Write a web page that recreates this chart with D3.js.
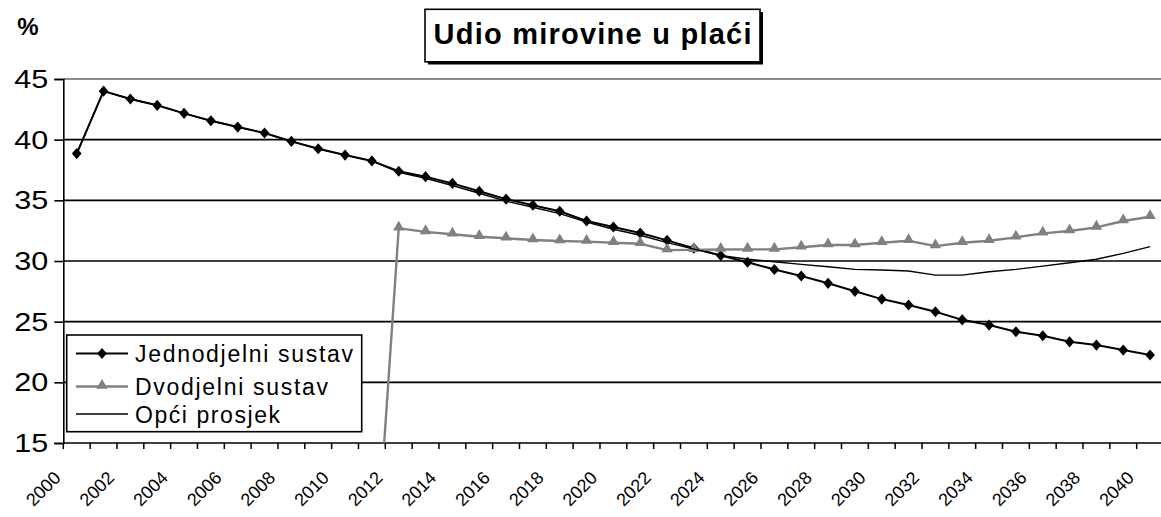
<!DOCTYPE html>
<html><head><meta charset="utf-8">
<script src="https://cdn.jsdelivr.net/npm/d3@7"></script>
<style>
html,body{margin:0;padding:0;background:#fff;}
svg{display:block;font-family:"Liberation Sans",Arial,sans-serif;}
</style></head>
<body>
<svg id="chart" width="1161" height="517"></svg>
<script>
const years = [2000,2001,2002,2003,2004,2005,2006,2007,2008,2009,2010,2011,2012,2013,2014,2015,2016,2017,2018,2019,2020,2021,2022,2023,2024,2025,2026,2027,2028,2029,2030,2031,2032,2033,2034,2035,2036,2037,2038,2039,2040];
const jednodjelni = [38.85,44.0,43.35,42.83,42.17,41.56,41.04,40.55,39.86,39.25,38.73,38.25,37.4,36.95,36.4,35.75,35.1,34.6,34.1,33.3,32.8,32.3,31.7,31.05,30.45,29.9,29.3,28.76,28.16,27.5,26.86,26.37,25.82,25.15,24.72,24.17,23.84,23.34,23.07,22.66,22.25];
const dvodjelni = [0,0,0,0,0,0,0,0,0,0,0,0,32.7,32.4,32.2,32.0,31.87,31.73,31.65,31.6,31.5,31.42,30.9,30.92,30.95,30.96,30.96,31.13,31.32,31.32,31.5,31.67,31.23,31.5,31.67,31.95,32.28,32.47,32.77,33.3,33.65];
const opciProsjek = [38.85,44.0,43.35,42.83,42.17,41.56,41.04,40.55,39.86,39.25,38.73,38.25,37.3,36.82,36.22,35.58,34.93,34.43,33.9,33.2,32.62,32.12,31.52,30.98,30.45,30.14,29.94,29.72,29.53,29.31,29.26,29.17,28.84,28.84,29.11,29.31,29.58,29.86,30.14,30.63,31.18];
const yTicks = [15,20,25,30,35,40,45];
const xTickLabels = ["2000","2002","2004","2006","2008","2010","2012","2014","2016","2018","2020","2022","2024","2026","2028","2030","2032","2034","2036","2038","2040"];
const seriesNames = ["Jednodjelni sustav","Dvodjelni sustav","Opći prosjek"];
const title = "Udio mirovine u plaći";

const svg = d3.select("#chart");
const L = 63.3, R = 1163.5, T = 79, B = 443;
const x = d3.scaleBand().domain(years).range([L, R]).padding(0);
const cx = d => x(d) + x.bandwidth()/2;
const y = d3.scaleLinear().domain([15,45]).range([B, T]);

svg.append("defs").append("clipPath").attr("id","plotclip")
  .append("rect").attr("x",L).attr("y",T-6).attr("width",R-L).attr("height",B-T+6);

// gridlines
svg.append("g").selectAll("line").data(yTicks.filter(v=>v>15)).join("line")
  .attr("x1",L).attr("x2",R).attr("y1",d=>y(d)).attr("y2",d=>y(d))
  .attr("stroke",d=>d===45?"#8c8c8c":"#000").attr("stroke-width",d=>d===45?2:1.6);

// y axis
const yAxis = svg.append("g").attr("transform",`translate(${L},0)`)
  .call(d3.axisLeft(y).tickValues(yTicks).tickSize(9).tickFormat(d3.format("d")));
yAxis.select(".domain").attr("stroke","#000").attr("stroke-width",1.6);
yAxis.selectAll(".tick line").attr("stroke","#000").attr("stroke-width",1.6);
yAxis.selectAll(".tick text").attr("font-size",26).attr("fill","#000")
  .attr("font-family","'Liberation Sans',Arial,sans-serif")
  .attr("x",-15).attr("dy","0.33em").attr("textLength",34).attr("lengthAdjust","spacingAndGlyphs");

// x axis
const xg = svg.append("g");
xg.append("line").attr("x1",L).attr("x2",R).attr("y1",y(15)).attr("y2",y(15))
  .attr("stroke","#000").attr("stroke-width",1.6);
xg.selectAll("line.tk").data(years).join("line").attr("class","tk")
  .attr("x1",d=>x(d)).attr("x2",d=>x(d)).attr("y1",y(15)).attr("y2",y(15)+6)
  .attr("stroke","#000").attr("stroke-width",1.5);
xg.selectAll("text").data(xTickLabels).join("text")
  .attr("transform",d=>`translate(${cx(+d)-15},${y(15)+36}) rotate(-45)`)
  .attr("text-anchor","end").attr("font-size",18).attr("fill","#000")
  .text(d=>d);

// % label
svg.append("text").attr("x",28).attr("y",35).attr("text-anchor","middle")
  .attr("font-size",24).attr("font-weight","bold").text("%");

// series
const plot = svg.append("g").attr("clip-path","url(#plotclip)");
const line = d3.line().x((d,i)=>cx(years[i])).y(d=>y(d));
const diamond = d3.symbol().type(d3.symbolDiamond2).size(60);
const triangle = d3.symbol().type(d3.symbolTriangle).size(56);

plot.append("path").datum(jednodjelni).attr("d",line)
  .attr("fill","none").attr("stroke","#000").attr("stroke-width",2);
plot.selectAll("path.dm").data(jednodjelni).join("path").attr("class","dm")
  .attr("transform",(d,i)=>`translate(${cx(years[i])},${y(d)}) scale(1,1.15)`)
  .attr("d",diamond).attr("fill","#000");

plot.append("path").datum(dvodjelni).attr("d",line)
  .attr("fill","none").attr("stroke","#808080").attr("stroke-width",2.4);
plot.selectAll("path.tr").data(dvodjelni.map((v,i)=>({v,i})).filter(o=>o.v>0)).join("path").attr("class","tr")
  .attr("transform",o=>`translate(${cx(years[o.i])},${y(o.v)-1})`)
  .attr("d",triangle).attr("fill","#808080");

plot.append("path").datum(opciProsjek).attr("d",line)
  .attr("fill","none").attr("stroke","#000").attr("stroke-width",1.4);

// legend
const lg = svg.append("g");
lg.append("rect").attr("x",66.7).attr("y",335).attr("width",295).attr("height",96.7)
  .attr("fill","#fff").attr("stroke","#000").attr("stroke-width",1.6);
const rowsY = [353.5, 386.5, 414];
const lens = [218, 193, 145];
const styles = [{c:"#000",w:2,m:"d"},{c:"#808080",w:2.4,m:"t"},{c:"#000",w:1.4,m:null}];
seriesNames.forEach((n,i)=>{
  lg.append("line").attr("x1",76).attr("x2",128).attr("y1",rowsY[i]).attr("y2",rowsY[i])
    .attr("stroke",styles[i].c).attr("stroke-width",styles[i].w);
  if(styles[i].m==="d") lg.append("path").attr("transform",`translate(102,${rowsY[i]}) scale(1,1.15)`).attr("d",diamond).attr("fill","#000");
  if(styles[i].m==="t") lg.append("path").attr("transform",`translate(102,${rowsY[i]-1})`).attr("d",triangle).attr("fill","#808080");
  lg.append("text").attr("x",135).attr("y",rowsY[i]+8.5).attr("font-size",23)
    .attr("textLength",lens[i]).attr("lengthAdjust","spacing").text(n);
});

// title
const tg = svg.append("g");
tg.append("rect").attr("x",428).attr("y",12).attr("width",335).attr("height",52.5).attr("fill","#000");
tg.append("rect").attr("x",425).attr("y",9.3).attr("width",335).attr("height",52.5)
  .attr("fill","#fff").attr("stroke","#000").attr("stroke-width",1.6);
tg.append("text").attr("x",592.5).attr("y",43.5).attr("text-anchor","middle")
  .attr("font-size",29).attr("font-weight","bold")
  .attr("textLength",318).attr("lengthAdjust","spacing").text(title);
</script>
</body></html>
